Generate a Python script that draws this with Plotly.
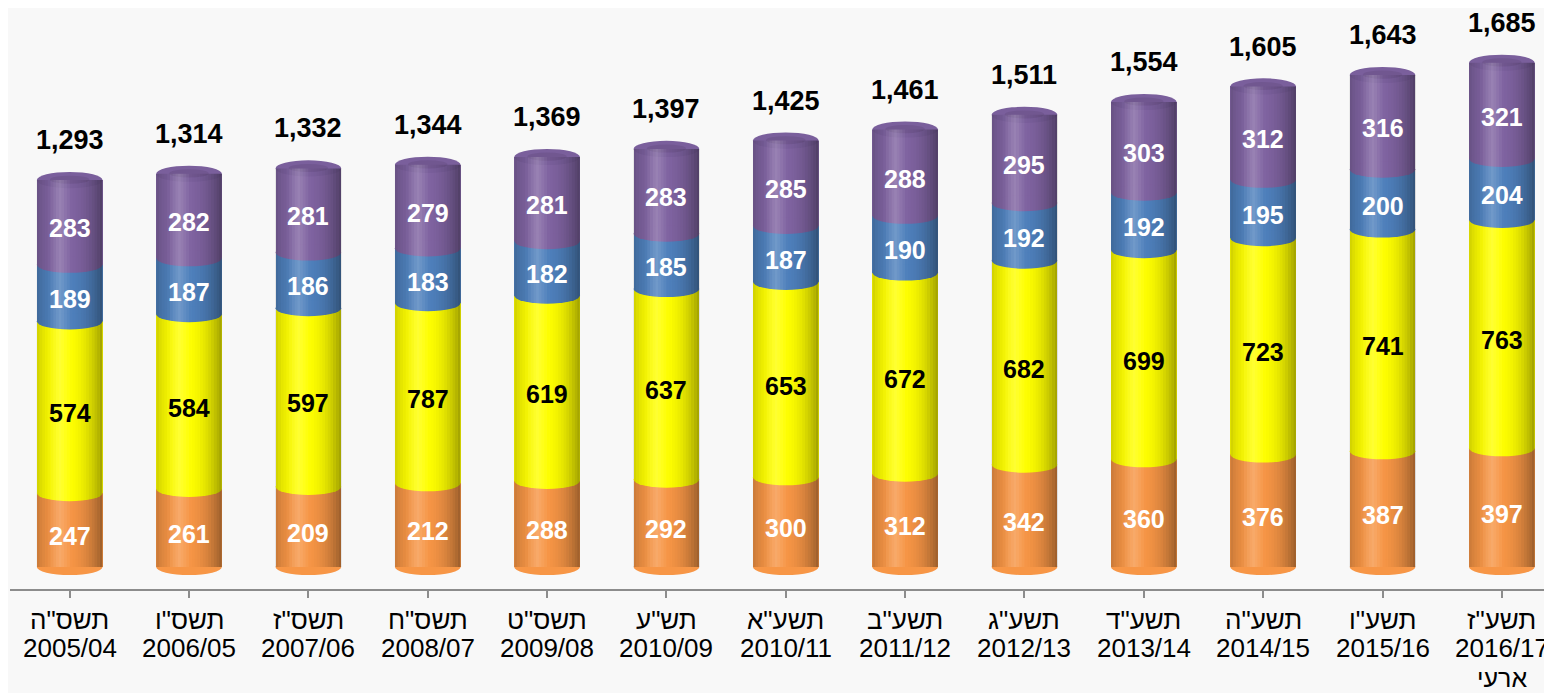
import plotly.graph_objects as go

# category labels: Hebrew school year and civil years
heb = ['תשס"ה', 'תשס"ו', 'תשס"ז', 'תשס"ח', 'תשס"ט', 'תש"ע', 'תשע"א', 'תשע"ב',
       'תשע"ג', 'תשע"ד', 'תשע"ה', 'תשע"ו', 'תשע"ז']
years = ['2005/04', '2006/05', '2007/06', '2008/07', '2009/08', '2010/09', '2010/11',
         '2011/12', '2012/13', '2013/14', '2014/15', '2015/16', '2016/17']
note = ['', '', '', '', '', '', '', '', '', '', '', '', 'ארעי']

# printed segment labels
orange_lbl = [247, 261, 209, 212, 288, 292, 300, 312, 342, 360, 376, 387, 397]
yellow_lbl = [574, 584, 597, 787, 619, 637, 653, 672, 682, 699, 723, 741, 763]
blue = [189, 187, 186, 183, 182, 185, 187, 190, 192, 192, 195, 200, 204]
purple = [283, 282, 281, 279, 281, 283, 285, 288, 295, 303, 312, 316, 321]
totals = [1293, 1314, 1332, 1344, 1369, 1397, 1425, 1461, 1511, 1554, 1605, 1643, 1685]

# drawn heights (two printed labels disagree with the bar heights / totals)
orange = [247, 261, 268, 280, 288, 292, 300, 312, 342, 360, 376, 387, 397]
yellow = [574, 584, 597, 602, 619, 637, 653, 672, 682, 699, 723, 741, 763]

C_OR, C_YE, C_BL, C_PU = '#F79646', '#FFFF00', '#4F81BD', '#8064A2'
FONT = 'Liberation Sans, Arial, sans-serif'
W = 0.55      # column width in category units
HU = 27       # half height of the elliptical edges in data units

x = list(range(len(years)))
fig = go.Figure()
for vals, col in [(orange, C_OR), (yellow, C_YE), (blue, C_BL), (purple, C_PU)]:
    fig.add_trace(go.Bar(x=x, y=vals, width=W, marker=dict(color=col, line=dict(width=0)),
                         hoverinfo='skip', showlegend=False))

shapes = []
annos = []
for i in x:
    x0, x1 = i - W / 2, i + W / 2
    segs = [(orange[i], C_OR, orange_lbl[i], 'white'), (yellow[i], C_YE, yellow_lbl[i], 'black'),
            (blue[i], C_BL, blue[i], 'white'), (purple[i], C_PU, purple[i], 'white')]
    base = 0
    for v, col, lbl, tcol in segs:
        # rounded bottom edge of each segment
        shapes.append(dict(type='circle', xref='x', yref='y', x0=x0, x1=x1,
                           y0=base - HU, y1=base + HU, fillcolor=col, line=dict(width=0)))
        annos.append(dict(x=i, y=base + v / 2, text='<b>%d</b>' % lbl, showarrow=False,
                          yshift=-6, font=dict(family=FONT, size=25, color=tcol)))
        base += v
    top = base
    # dome cap
    shapes.append(dict(type='circle', xref='x', yref='y', x0=x0, x1=x1,
                       y0=top - HU, y1=top + HU, fillcolor='#7A5F9C', line=dict(width=0)))
    shapes.append(dict(type='circle', xref='x', yref='y', x0=i - W * 0.3, x1=i + W * 0.3,
                       y0=top - HU * 0.45, y1=top + HU * 0.55, fillcolor='#6A5289',
                       line=dict(width=0), opacity=0.6))
    # cylinder shading strips
    n = 24
    for k in range(n):
        t = (k + 0.5) / n
        d = abs(t - 0.42) / 0.58
        shade = 0.38 * d ** 2.2
        sx0, sx1 = x0 + W * k / n, x0 + W * (k + 1) / n
        shapes.append(dict(type='rect', xref='x', yref='y', x0=sx0, x1=sx1,
                           y0=0, y1=top, fillcolor='black', opacity=shade, line=dict(width=0)))
        hl = max(0.0, 0.2 - abs(t - 0.35) * 1.1)
        if hl > 0:
            shapes.append(dict(type='rect', xref='x', yref='y', x0=sx0, x1=sx1, y0=0, y1=top,
                               fillcolor='white', opacity=hl, line=dict(width=0)))
    annos.append(dict(x=i, y=totals[i], text='<b>{:,}</b>'.format(totals[i]), showarrow=False,
                      yshift=40, font=dict(family=FONT, size=27, color='black')))
    # category labels under the axis
    for txt, dy, fs in [(heb[i], -31, 26), (years[i], -59, 26), (note[i], -89, 25)]:
        if txt:
            annos.append(dict(x=i, y=0, yref='paper', text=txt, showarrow=False, yshift=dy,
                              yanchor='middle', font=dict(family=FONT, size=fs, color='black')))

# page body adds an 8px margin, so the figure is offset inside the window
fig.update_layout(
    barmode='stack', bargap=0,
    width=1544, height=685,
    margin=dict(l=2, r=0, t=0, b=104, autoexpand=False),
    paper_bgcolor='#F8F8F8', plot_bgcolor='#F8F8F8',
    shapes=shapes, annotations=annos,
    font=dict(family=FONT, size=26, color='black'),
)
fig.update_xaxes(range=[-0.5, 12.42], tickvals=x, showticklabels=False, tickson='boundaries',
                 ticks='outside', ticklen=7, tickcolor='#8C8C8C', tickwidth=2,
                 showline=True, linecolor='#8C8C8C', linewidth=2, showgrid=False,
                 automargin=False, fixedrange=True)
fig.update_yaxes(range=[-73.5, 1868], visible=False, showgrid=False, zeroline=False,
                 automargin=False, fixedrange=True)

fig.write_html("out.html")
